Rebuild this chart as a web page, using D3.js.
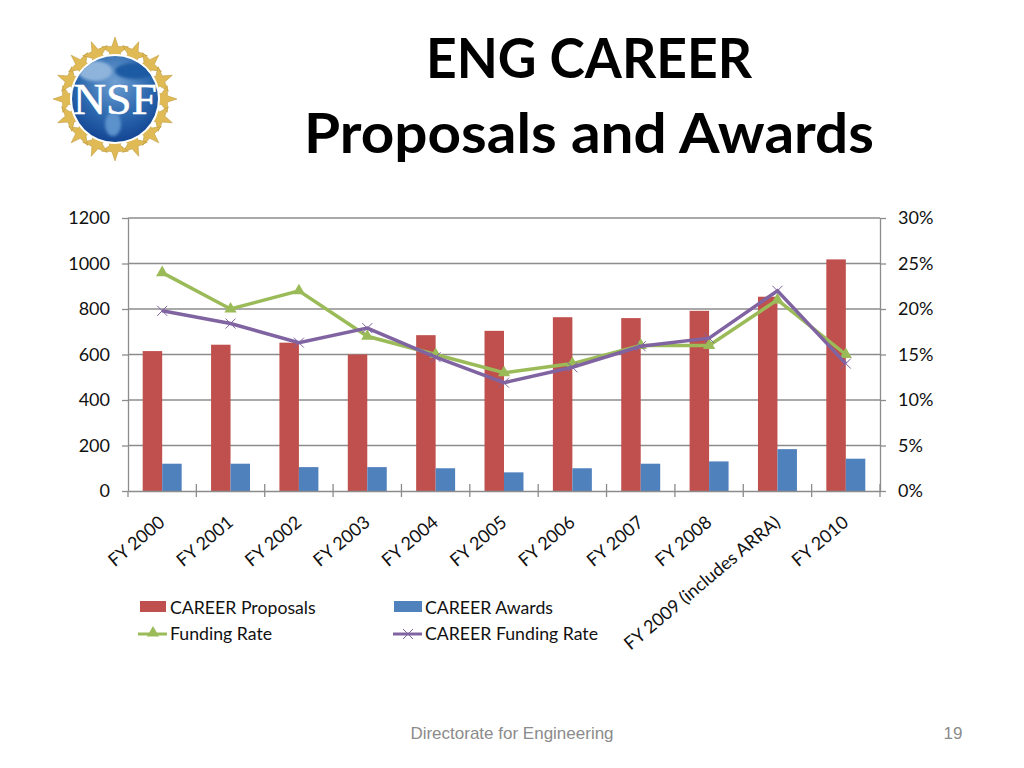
<!DOCTYPE html>
<html>
<head>
<meta charset="utf-8">
<title>ENG CAREER Proposals and Awards</title>
<script src="https://cdn.jsdelivr.net/npm/d3@7.9.0/dist/d3.min.js"></script>
<style>
  html, body { margin: 0; padding: 0; background: #fff; }
  svg { display: block; }
  text { font-family: Lato, "Open Sans", sans-serif; fill: #111; }
  .title { font-size: 56px; font-weight: 700; fill: #000; text-anchor: middle; }
  .tick-label { font-size: 18px; }
  .footer { font-family: "Liberation Sans", Arial, sans-serif; font-size: 17px; fill: #8b8b8b; }
</style>
</head>
<body>
<svg id="chart" width="1024" height="768"></svg>
<script>
const years = ['FY 2000', 'FY 2001', 'FY 2002', 'FY 2003', 'FY 2004', 'FY 2005', 'FY 2006', 'FY 2007', 'FY 2008', 'FY 2009 (includes ARRA)', 'FY 2010'];
const proposals = [615, 643, 652, 600, 685, 704, 764, 760, 792, 854, 1018];
const awards = [120, 120, 105, 105, 100, 82, 100, 120, 130, 184, 142];
const fundingRate = [24, 20, 22, 17, 15, 13, 14, 16, 16, 21, 15];
const careerFundingRate = [19.8, 18.4, 16.3, 17.9, 14.7, 11.9, 13.6, 15.9, 16.8, 22, 14];
const leftTicks = [0, 200, 400, 600, 800, 1000, 1200];
const rightTicks = [0, 5, 10, 15, 20, 25, 30];

const RED = '#c0504d', BLUE = '#4f81bd', GREEN = '#9bbb59', PURPLE = '#8064a2', AXIS = '#8c8c8c';

const svg = d3.select('#chart');
const plot = { left: 128, right: 880, top: 218, bottom: 491 };

const x = d3.scaleBand().domain(years).range([plot.left, plot.right]);
const yLeft = d3.scaleLinear().domain([0, 1200]).range([plot.bottom, plot.top]);
const yRight = d3.scaleLinear().domain([0, 30]).range([plot.bottom, plot.top]);
const center = (d) => x(d) + x.bandwidth() / 2;
const barW = x.bandwidth() * 0.285;

// Titles
svg.append('text').attr('class', 'title').attr('x', 589).attr('y', 78)
  .attr('textLength', 326).attr('lengthAdjust', 'spacingAndGlyphs').text('ENG CAREER');
svg.append('text').attr('class', 'title').attr('x', 589).attr('y', 153)
  .attr('textLength', 570).attr('lengthAdjust', 'spacingAndGlyphs').text('Proposals and Awards');

// Gridlines
svg.append('g').selectAll('line')
  .data(leftTicks.filter((d) => d > 0))
  .join('line')
  .attr('x1', plot.left).attr('x2', plot.right)
  .attr('y1', (d) => yLeft(d)).attr('y2', (d) => yLeft(d))
  .attr('stroke', AXIS).attr('stroke-width', 1.3);

// Bars
svg.append('g').selectAll('rect')
  .data(years)
  .join('rect')
  .attr('x', (d) => center(d) - barW)
  .attr('y', (d, i) => yLeft(proposals[i]))
  .attr('width', barW)
  .attr('height', (d, i) => plot.bottom - yLeft(proposals[i]))
  .attr('fill', RED);

svg.append('g').selectAll('rect')
  .data(years)
  .join('rect')
  .attr('x', (d) => center(d))
  .attr('y', (d, i) => yLeft(awards[i]))
  .attr('width', barW)
  .attr('height', (d, i) => plot.bottom - yLeft(awards[i]))
  .attr('fill', BLUE);

// Axes
const styleAxis = (g) => {
  g.selectAll('.domain').attr('stroke', AXIS).attr('stroke-width', 1.3);
  g.selectAll('.tick line').attr('stroke', AXIS).attr('stroke-width', 1.3);
  g.selectAll('.tick text').attr('class', 'tick-label').attr('fill', '#111');
};

svg.append('g')
  .attr('transform', `translate(${plot.left},0)`)
  .call(d3.axisLeft(yLeft).tickValues(leftTicks).tickFormat(d3.format('d')).tickSize(6).tickSizeOuter(0).tickPadding(12))
  .call(styleAxis);

svg.append('g')
  .attr('transform', `translate(${plot.right},0)`)
  .call(d3.axisRight(yRight).tickValues(rightTicks).tickFormat((d) => d + '%').tickSize(6).tickSizeOuter(0).tickPadding(12))
  .call(styleAxis);

// category axis: labels on the band centres, tick marks on the band edges
const xAxis = svg.append('g')
  .attr('transform', `translate(0,${plot.bottom})`)
  .call(d3.axisBottom(x).tickSize(0).tickSizeOuter(0))
  .call(styleAxis);

xAxis.selectAll('.tick text')
  .attr('text-anchor', 'end')
  .attr('dy', 0)
  .attr('transform', 'translate(2,31) rotate(-40)');

svg.append('g').selectAll('line')
  .data(years.slice(1).concat(['end']))
  .join('line')
  .attr('x1', (d) => (d === 'end' ? plot.right : x(d)))
  .attr('x2', (d) => (d === 'end' ? plot.right : x(d)))
  .attr('y1', plot.bottom - 7).attr('y2', plot.bottom + 6)
  .attr('stroke', AXIS).attr('stroke-width', 1.3);

svg.append('line')
  .attr('x1', plot.left).attr('x2', plot.left)
  .attr('y1', plot.bottom).attr('y2', plot.bottom + 6)
  .attr('stroke', AXIS).attr('stroke-width', 1.3);

// Lines
const rateLine = d3.line().x((d) => d[0]).y((d) => d[1]);
const rateToPoints = (values) => years.map((d, i) => [center(d), yRight(values[i])]);
const triangle = d3.symbol().type(d3.symbolTriangle).size(65);

function drawCross(g, px, py, size) {
  g.append('path')
    .attr('d', `M${px - size},${py - size}L${px + size},${py + size}M${px - size},${py + size}L${px + size},${py - size}`)
    .attr('stroke', PURPLE).attr('stroke-width', 1).attr('fill', 'none');
}

const greenG = svg.append('g');
greenG.append('path')
  .attr('d', rateLine(rateToPoints(fundingRate)))
  .attr('fill', 'none').attr('stroke', GREEN).attr('stroke-width', 3.5);
greenG.selectAll('path.marker')
  .data(rateToPoints(fundingRate))
  .join('path')
  .attr('class', 'marker')
  .attr('d', triangle)
  .attr('transform', (d) => `translate(${d[0]},${d[1]})`)
  .attr('fill', GREEN);

const purpleG = svg.append('g');
purpleG.append('path')
  .attr('d', rateLine(rateToPoints(careerFundingRate)))
  .attr('fill', 'none').attr('stroke', PURPLE).attr('stroke-width', 3.5);
rateToPoints(careerFundingRate).forEach((p) => drawCross(purpleG, p[0], p[1], 5));

// Legend
const legend = svg.append('g');
const legendText = (tx, ty, label) => legend.append('text').attr('x', tx).attr('y', ty).attr('font-size', 17.7).text(label);

legend.append('rect').attr('x', 140).attr('y', 601).attr('width', 26).attr('height', 11).attr('fill', RED);
legendText(170, 614, 'CAREER Proposals');
legend.append('rect').attr('x', 394).attr('y', 601).attr('width', 28).attr('height', 11).attr('fill', BLUE);
legendText(425, 614, 'CAREER Awards');

legend.append('line').attr('x1', 138).attr('x2', 167).attr('y1', 634).attr('y2', 634).attr('stroke', GREEN).attr('stroke-width', 3);
legend.append('path').attr('d', triangle).attr('transform', 'translate(153,633)').attr('fill', GREEN);
legendText(170, 640, 'Funding Rate');

legend.append('line').attr('x1', 393).attr('x2', 422).attr('y1', 634).attr('y2', 634).attr('stroke', PURPLE).attr('stroke-width', 3);
drawCross(legend, 408, 634, 5);
legendText(425, 640, 'CAREER Funding Rate');

// Footer
svg.append('text').attr('class', 'footer').attr('x', 512).attr('y', 739).attr('text-anchor', 'middle').text('Directorate for Engineering');
svg.append('text').attr('class', 'footer').attr('x', 953).attr('y', 739).attr('text-anchor', 'middle').text('19');

// NSF logo
const defs = svg.append('defs');
const globe = defs.append('radialGradient').attr('id', 'globe').attr('cx', '50%').attr('cy', '30%').attr('r', '75%');
globe.append('stop').attr('offset', '0%').attr('stop-color', '#6f9fd2');
globe.append('stop').attr('offset', '55%').attr('stop-color', '#2c68ae');
globe.append('stop').attr('offset', '100%').attr('stop-color', '#0f3f8f');
defs.append('clipPath').attr('id', 'globe-clip').append('circle').attr('r', 43);
defs.append('filter').attr('id', 'soft').append('feGaussianBlur').attr('stdDeviation', 1.6);

const logo = svg.append('g').attr('transform', 'translate(115,99)');
const starPath = d3.lineRadial().curve(d3.curveLinearClosed);
const starPts = d3.range(10).map((i) => [i * Math.PI / 5, i % 2 ? 5.5 : 14]);
d3.range(16).forEach((i) => {
  logo.append('path')
    .attr('d', starPath(starPts))
    .attr('transform', `rotate(${i * 360 / 16}) translate(0,-48)`)
    .attr('fill', '#e0bb55').attr('stroke', '#b89535').attr('stroke-width', 0.5);
});
logo.append('circle').attr('r', 45).attr('fill', '#fff');
logo.append('circle').attr('r', 43).attr('fill', 'url(#globe)');

// rough land masses on the globe
const land = logo.append('g').attr('clip-path', 'url(#globe-clip)').attr('filter', 'url(#soft)');
land.append('ellipse').attr('cx', -20).attr('cy', -28).attr('rx', 17).attr('ry', 10).attr('fill', '#8fb4dc');
land.append('ellipse').attr('cx', 20).attr('cy', -28).attr('rx', 20).attr('ry', 8).attr('fill', '#1f5aa3');
land.append('ellipse').attr('cx', -2).attr('cy', 25).attr('rx', 8).attr('ry', 12).attr('fill', '#5c92cc');

logo.append('text')
  .attr('y', 15).attr('text-anchor', 'middle')
  .attr('font-size', 44).attr('textLength', 84).attr('lengthAdjust', 'spacingAndGlyphs')
  .style('font-family', '"Liberation Serif", serif').style('fill', '#fff')
  .attr('stroke', '#fff').attr('stroke-width', 0.5)
  .text('NSF');
</script>
</body>
</html>
